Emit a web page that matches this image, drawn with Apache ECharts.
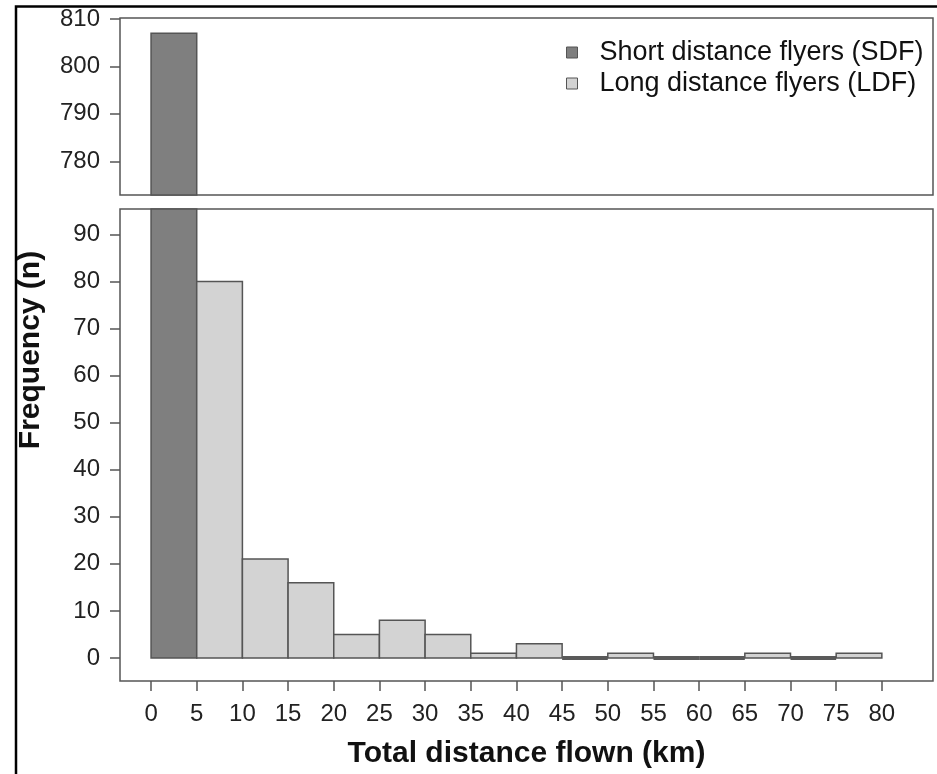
<!DOCTYPE html>
<html>
<head>
<meta charset="utf-8">
<script src="https://cdn.jsdelivr.net/npm/echarts@6/dist/echarts.min.js"></script>
<style>
  html, body { margin: 0; padding: 0; background: #fff; }
  #chart { width: 937px; height: 774px; }
</style>
</head>
<body>
<div id="chart"></div>
<script>
// bin edges (km), 5 km wide
const binEdges = [0, 5, 10, 15, 20, 25, 30, 35, 40, 45, 50, 55, 60, 65, 70, 75, 80]
// short distance flyers: only the 0-5 km bin
const sdfFreq = [807]
// long distance flyers: bins 5-10 ... 75-80
const ldfFreq = [80, 21, 16, 5, 8, 5, 1, 3, 0, 1, 0, 0, 1, 0, 1]
const xTicks = [0, 5, 10, 15, 20, 25, 30, 35, 40, 45, 50, 55, 60, 65, 70, 75, 80]
const yTicksTop = [780, 790, 800, 810]
const yTicksBottom = [0, 10, 20, 30, 40, 50, 60, 70, 80, 90]

const FONT = "'Liberation Sans', Arial, sans-serif"
const SDF_COLOR = '#7f7f7f'
const LDF_COLOR = '#d3d3d3'
const EDGE = '#555'

const sdfData = sdfFreq.map((v, i) => [binEdges[i], binEdges[i + 1], v])
const ldfData = ldfFreq.map((v, i) => [binEdges[i + 1], binEdges[i + 2], v])

function renderBin (params, api) {
  const start = api.value(0)
  const end = api.value(1)
  const val = api.value(2)
  const p1 = api.coord([start, val])
  const p2 = api.coord([end, 0])
  const shape = echarts.graphic.clipRectByRect({
    x: p1[0], y: p1[1], width: p2[0] - p1[0], height: p2[1] - p1[1]
  }, {
    x: params.coordSys.x, y: params.coordSys.y,
    width: params.coordSys.width, height: params.coordSys.height
  })
  const zero = val === 0
  return shape && {
    type: 'rect',
    shape: zero ? { x: p1[0], y: p2[1], width: p2[0] - p1[0], height: 0 } : shape,
    style: {
      fill: api.visual('color'),
      stroke: zero ? '#5a5a5a' : EDGE,
      lineWidth: zero ? 4 : 1.5
    }
  }
}

function series (name, color, data, axisIndex) {
  return {
    name: name,
    type: 'custom',
    xAxisIndex: axisIndex,
    yAxisIndex: axisIndex,
    itemStyle: { color: color, borderColor: EDGE, borderWidth: 1.5 },
    renderItem: renderBin,
    encode: { x: [0, 1], y: 2 },
    data: data,
    silent: true
  }
}

const yAxisBase = {
  type: 'value',
  splitLine: { show: false },
  axisLine: { show: false, onZero: false },
  axisTick: { show: true, length: 10, lineStyle: { color: EDGE, width: 1.5 } },
  axisLabel: { margin: 20, color: '#222', fontSize: 24, fontFamily: FONT }
}

const xAxisBase = {
  type: 'value',
  min: -3.4,
  max: 85.6,
  splitLine: { show: false },
  axisLine: { show: false, onZero: false }
}

const chart = echarts.init(document.getElementById('chart'))
chart.setOption({
  animation: false,
  backgroundColor: '#fff',
  grid: [
    { left: 120, right: 4, top: 18, height: 177, show: true, borderColor: EDGE, borderWidth: 1.5 },
    { left: 120, right: 4, top: 209, height: 474, show: true, borderColor: EDGE, borderWidth: 1.5 }
  ],
  xAxis: [
    Object.assign({}, xAxisBase, {
      gridIndex: 0,
      axisTick: { show: false },
      axisLabel: { show: false }
    }),
    Object.assign({}, xAxisBase, {
      gridIndex: 1,
      axisTick: { show: true, length: 10, customValues: xTicks, lineStyle: { color: EDGE, width: 1.5 } },
      axisLabel: { margin: 21, color: '#222', fontSize: 24, fontFamily: FONT, customValues: xTicks },
      name: 'Total distance flown (km)',
      nameLocation: 'middle',
      nameGap: 58,
      nameTextStyle: { fontSize: 30, fontWeight: 'bold', color: '#111', fontFamily: FONT }
    })
  ],
  yAxis: [
    Object.assign({}, yAxisBase, {
      gridIndex: 0,
      min: 772.9,
      max: 810.2,
      axisTick: Object.assign({}, yAxisBase.axisTick, { customValues: yTicksTop }),
      axisLabel: Object.assign({}, yAxisBase.axisLabel, { customValues: yTicksTop })
    }),
    Object.assign({}, yAxisBase, {
      gridIndex: 1,
      min: -4.9,
      max: 95.4,
      axisTick: Object.assign({}, yAxisBase.axisTick, { customValues: yTicksBottom }),
      axisLabel: Object.assign({}, yAxisBase.axisLabel, { customValues: yTicksBottom })
    })
  ],
  legend: {
    orient: 'vertical',
    left: 561,
    top: 34,
    itemWidth: 45,
    itemHeight: 11,
    itemGap: 4,
    icon: 'path://M0,0H10V10H0Z',
    textStyle: { fontSize: 27, color: '#111', fontFamily: FONT },
    data: [
      { name: 'Short distance flyers (SDF)', itemStyle: { color: SDF_COLOR, borderColor: EDGE, borderWidth: 1 } },
      { name: 'Long distance flyers (LDF)', itemStyle: { color: LDF_COLOR, borderColor: EDGE, borderWidth: 1 } }
    ]
  },
  graphic: [
    {
      type: 'rect',
      shape: { x: 16, y: 6.5, width: 1000, height: 1000 },
      style: { fill: null, stroke: '#000', lineWidth: 2.5 },
      silent: true
    },
    {
      type: 'text',
      x: 31,
      y: 350,
      rotation: Math.PI / 2,
      style: {
        text: 'Frequency (n)',
        font: 'bold 30px ' + FONT,
        fill: '#111',
        align: 'center',
        verticalAlign: 'middle'
      },
      silent: true
    }
  ],
  series: [
    series('Short distance flyers (SDF)', SDF_COLOR, sdfData, 0),
    series('Short distance flyers (SDF)', SDF_COLOR, sdfData, 1),
    series('Long distance flyers (LDF)', LDF_COLOR, ldfData, 1)
  ]
})
</script>
</body>
</html>
